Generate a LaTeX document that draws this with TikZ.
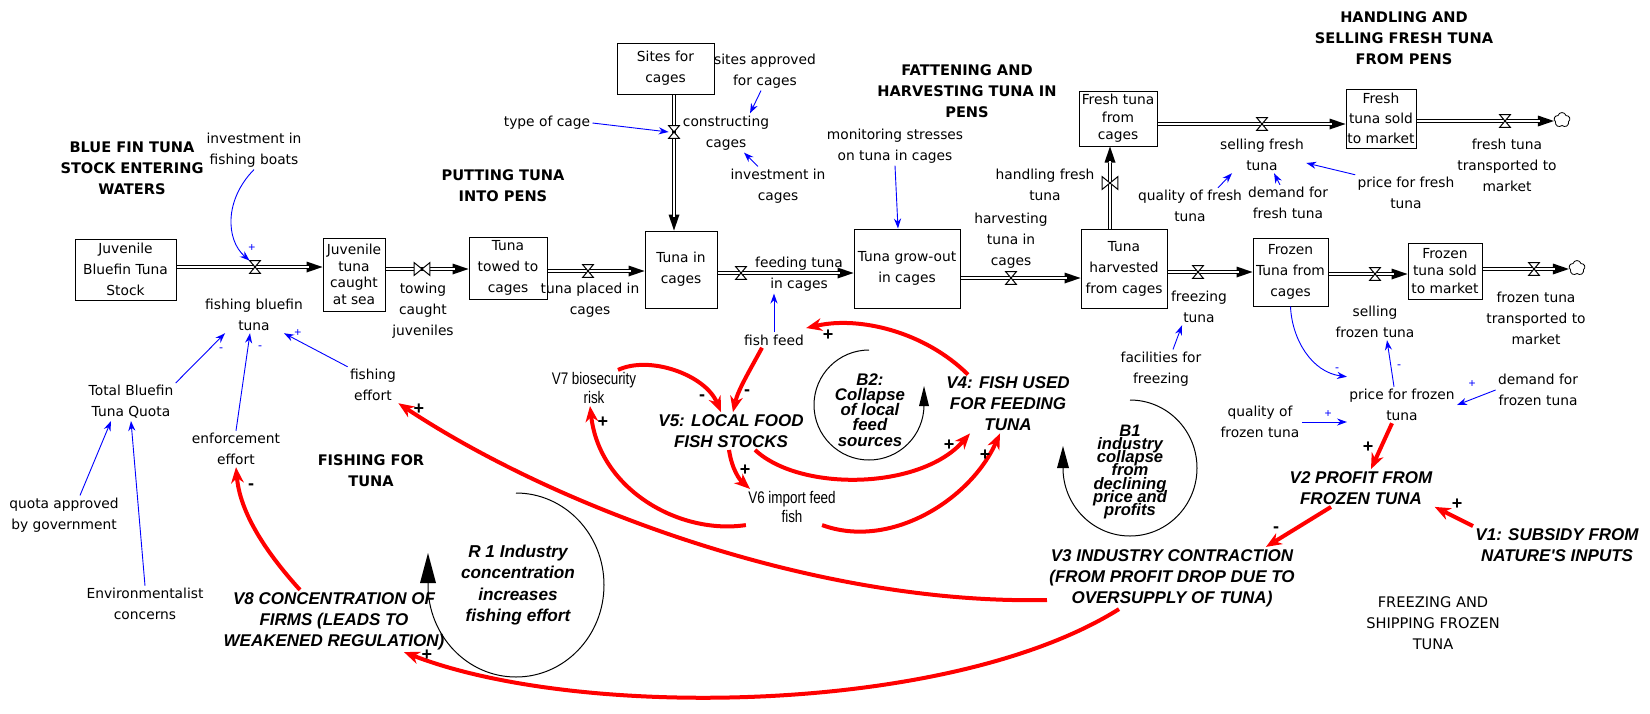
\documentclass[tikz,border=0pt]{standalone}
\usepackage{fontspec}
\usetikzlibrary{arrows.meta,shapes.symbols,backgrounds}
\newfontfamily\comicfont{DejaVu Sans}
\newfontfamily\varfamily{Liberation Sans}
\newfontfamily\narrowfont{Liberation Sans}[FakeStretch=0.8]
\newcommand\tightlines{\lineskiplimit=-20pt\relax}

\tikzset{
  stock/.style={draw,line width=0.5pt,align=center,inner sep=0pt,font=\comicfont\fontsize{6.9}{10.5}\selectfont},
  aux/.style={align=center,inner sep=1pt,font=\comicfont\fontsize{6.9}{10.5}\selectfont},
  sector/.style={align=center,inner sep=1pt,font=\comicfont\bfseries\fontsize{7.3}{10.5}\selectfont},
  var/.style={align=center,inner sep=1pt,font=\varfamily\bfseries\itshape\fontsize{8.5}{10.5}\selectfont},
  narrowvar/.style={align=center,inner sep=1pt,font=\narrowfont\fontsize{8.4}{9.5}\selectfont},
  loopname/.style={align=center,inner sep=0pt,font=\varfamily\bfseries\itshape\fontsize{8.6}{10.7}\selectfont},
  valve/.style={inner sep=0pt,minimum width=5pt,minimum height=6pt},
  bowvalve/.style={inner sep=0pt,minimum width=7.5pt,minimum height=6pt},
  sink/.style={cloud,draw,cloud puffs=5,cloud puff arc=150,aspect=1,minimum width=8pt,minimum height=7.5pt,inner sep=0pt,line width=0.4pt},
  pipe/.style={draw=white,line width=0.6pt,shorten >=7pt,
    preaction={draw=black,line width=1.8pt,shorten >=0pt,-{Triangle[length=8pt,width=5.5pt,line width=0pt]}}},
  info/.style={blue,line width=0.45pt,-{Stealth[length=5pt,width=3.6pt,line width=0pt]}},
  causal/.style={red,line width=2pt,-{Stealth[length=8pt,width=6.5pt,line width=0pt]}},
  loopline/.style={line width=0.5pt},
  sign/.style={inner sep=0pt,font=\varfamily\bfseries\fontsize{9}{9}\selectfont},
  bluesign/.style={inner sep=0pt,blue,font=\varfamily\fontsize{6}{6}\selectfont},
}

\begin{document}
\begin{tikzpicture}[x=0.5pt,y=-0.5pt]
\useasboundingbox (0,0) rectangle (1650,713);

% stocks
\node[stock,minimum width=50.5pt,minimum height=30.5pt] (juvstock) at (125.5,269.5) {Juvenile\\Bluefin Tuna\\Stock};
\node[stock,minimum width=31pt,minimum height=36.5pt,font=\comicfont\fontsize{6.9}{8.3}\selectfont] (caught) at (354,274.5) {Juvenile\\tuna\\caught\\at sea};
\node[stock,minimum width=39pt,minimum height=31pt] (towed) at (508,268) {Tuna\\towed to\\cages};
\node[stock,minimum width=48.5pt,minimum height=25.5pt] (sites) at (665.5,68.5) {Sites for\\cages};
\node[stock,minimum width=36pt,minimum height=38.5pt] (incages) at (681,269.5) {Tuna in\\cages};
\node[stock,minimum width=53pt,minimum height=39.5pt] (growout) at (907,268.5) {Tuna grow-out\\in cages};
\node[stock,minimum width=39pt,minimum height=27.5pt,font=\comicfont\fontsize{6.9}{8.8}\selectfont] (freshcages) at (1118,118.5) {Fresh tuna\\from\\cages};
\node[stock,minimum width=43pt,minimum height=39.5pt] (harvested) at (1124,268.5) {Tuna\\harvested\\from cages};
\node[stock,minimum width=35pt,minimum height=29.5pt,font=\comicfont\fontsize{6.9}{10}\selectfont] (freshsold) at (1381,118.5) {Fresh\\tuna sold\\to market};
\node[stock,minimum width=37.5pt,minimum height=34pt] (frozencages) at (1290.5,272) {Frozen\\Tuna from\\cages};
\node[stock,minimum width=37pt,minimum height=28pt,font=\comicfont\fontsize{6.9}{8.8}\selectfont] (frozensold) at (1445,271) {Frozen\\tuna sold\\to market};
\node[sink] (freshcloud) at (1562,120) {};
\node[sink] (frozencloud) at (1577,268) {};

% valves
\node[valve] (vfish) at (255,267) {};
\node[bowvalve] (vtow) at (422,269) {};
\node[valve] (vplace) at (588,271) {};
\node[valve] (vsites) at (674,132) {};
\node[valve] (vfeed) at (741,273) {};
\node[valve] (vharv) at (1011,278) {};
\node[bowvalve] (vhandle) at (1110,183) {};
\node[valve] (vsellfresh) at (1262,124) {};
\node[valve] (vfreshout) at (1505,121) {};
\node[valve] (vfreeze) at (1198,272) {};
\node[valve] (vsellfrozen) at (1375,274) {};
\node[valve] (vfrozenout) at (1534,269) {};

\begin{scope}[on background layer]
  \draw[pipe] (juvstock.east |- vfish) -- (caught.west |- vfish);
  \draw[pipe] (caught.east |- vtow) -- (towed.west |- vtow);
  \draw[pipe] (towed.east |- vplace) -- (incages.west |- vplace);
  \draw[pipe] (sites.south -| vsites) -- (incages.north -| vsites);
  \draw[pipe] (incages.east |- vfeed) -- (growout.west |- vfeed);
  \draw[pipe] (growout.east |- vharv) -- (harvested.west |- vharv);
  \draw[pipe] (harvested.north -| vhandle) -- (freshcages.south -| vhandle);
  \draw[pipe] (freshcages.east |- vsellfresh) -- (freshsold.west |- vsellfresh);
  \draw[pipe] (freshsold.east |- vfreshout) -- (freshcloud.west |- vfreshout);
  \draw[pipe] (harvested.east |- vfreeze) -- (frozencages.west |- vfreeze);
  \draw[pipe] (frozencages.east |- vsellfrozen) -- (frozensold.west |- vsellfrozen);
  \draw[pipe] (frozensold.east |- vfrozenout) -- (frozencloud.west |- vfrozenout);
\end{scope}

\foreach \v in {vfish,vplace,vsites,vfeed,vharv,vsellfresh,vfreshout,vfreeze,vsellfrozen,vfrozenout}
  \draw[fill=white,line width=0.5pt] (\v.north west) -- (\v.south east) -- (\v.south west) -- (\v.north east) -- cycle;
\foreach \v in {vtow,vhandle}
  \draw[fill=white,line width=0.5pt] (\v.north west) -- (\v.south east) -- (\v.north east) -- (\v.south west) -- cycle;

% sector titles
\node[sector] (secblue) at (132,168) {BLUE FIN TUNA\\STOCK ENTERING\\WATERS};
\node[sector] (secput) at (503,186) {PUTTING TUNA\\INTO PENS};
\node[sector] (secfat) at (967,91) {FATTENING AND\\HARVESTING TUNA IN\\PENS};
\node[sector] (sechand) at (1404,38) {HANDLING AND\\SELLING FRESH TUNA\\FROM PENS};
\node[sector] (secfish) at (371,471) {FISHING FOR\\TUNA};
\node[sector,font=\comicfont\fontsize{7.3}{10.5}\selectfont] (secfreeze) at (1433,623) {FREEZING AND\\SHIPPING FROZEN\\TUNA};

% auxiliaries
\node[aux] (invboats) at (254,150) {investment in\\fishing boats};
\node[aux] (fishbluefin) at (254,315) {fishing bluefin\\tuna};
\node[aux] (towing) at (423,311) {towing\\caught\\juveniles};
\node[aux] (placed) at (590,300) {tuna placed in\\cages};
\node[aux] (typecage) at (547,123) {type of cage};
\node[aux] (sitesappr) at (765,71) {sites approved\\for cages};
\node[aux] (constructing) at (726,133) {constructing\\cages};
\node[aux] (invcages) at (778,186) {investment in\\cages};
\node[aux] (feeding) at (799,274) {feeding tuna\\in cages};
\node[aux] (monitoring) at (895,146) {monitoring stresses\\on tuna in cages};
\node[aux] (harvesting) at (1011,241) {harvesting\\tuna in\\cages};
\node[aux] (handling) at (1045,185) {handling fresh\\tuna};
\node[aux] (sellfresh) at (1262,155) {selling fresh\\tuna};
\node[aux] (qualfresh) at (1190,206) {quality of fresh\\tuna};
\node[aux] (demfresh) at (1288,203) {demand for\\fresh tuna};
\node[aux] (pricefresh) at (1406,193) {price for fresh\\tuna};
\node[aux] (freshtrans) at (1507,165) {fresh tuna\\transported to\\market};
\node[aux] (freezing) at (1199,307) {freezing\\tuna};
\node[aux] (sellfrozen) at (1375,322) {selling\\frozen tuna};
\node[aux] (frozentrans) at (1536,318) {frozen tuna\\transported to\\market};
\node[aux] (facilities) at (1161,369) {facilities for\\freezing};
\node[aux] (pricefrozen) at (1402,405) {price for frozen\\tuna};
\node[aux] (demfrozen) at (1538,390) {demand for\\frozen tuna};
\node[aux] (qualfrozen) at (1260,422) {quality of\\frozen tuna};
\node[aux] (fishfeed) at (774,340) {fish feed};
\node[aux] (quota) at (131,402) {Total Bluefin\\Tuna Quota};
\node[aux] (enforcement) at (236,449) {enforcement\\effort};
\node[aux] (effort) at (373,385) {fishing\\effort};
\node[aux] (quotagov) at (64,515) {quota approved\\by government};
\node[aux] (environ) at (145,604) {Environmentalist\\concerns};

% causal loop variables
\node[var] (v1) at (1557,545) {V1: SUBSIDY FROM\\NATURE'S INPUTS};
\node[var] (v2) at (1361,488) {V2 PROFIT FROM\\FROZEN TUNA};
\node[var] (v3) at (1172,578) {V3 INDUSTRY CONTRACTION\\(FROM PROFIT DROP DUE TO\\OVERSUPPLY OF TUNA)};
\node[var] (v4) at (1008,404) {V4: FISH USED\\FOR FEEDING\\TUNA};
\node[var] (v5) at (731,431) {V5: LOCAL FOOD\\FISH STOCKS};
\node[narrowvar] (v6) at (792,507) {V6 import feed\\fish};
\node[narrowvar] (v7) at (594,388) {V7 biosecurity\\risk};
\node[var] (v8) at (334,621) {V8 CONCENTRATION OF\\FIRMS (LEADS TO\\WEAKENED REGULATION)};

% loops
\node[loopname] (r1) at (518,585) {R 1 Industry\\concentration\\increases\\fishing effort};
\node[loopname,font=\varfamily\bfseries\itshape\fontsize{8.4}{7.6}\selectfont\tightlines] (b2) at (870,410) {B2:\\Collapse\\of local\\feed\\sources};
\node[loopname,font=\varfamily\bfseries\itshape\fontsize{8.3}{6.6}\selectfont\tightlines] (b1) at (1130,472) {B1\\industry\\collapse\\from\\declining\\price and\\profits};
\draw[loopline,-{Triangle[length=15pt,width=8pt,line width=0pt]}] (516,493) arc[start angle=-90,end angle=180,x radius=88,y radius=92] -- ++(0,-32);
\draw[loopline,-{Triangle[length=10pt,width=5pt,line width=0pt]}] (869,350) arc[start angle=270,end angle=0,radius=55] -- ++(0,-19);
\draw[loopline,-{Triangle[length=11pt,width=6pt,line width=0pt]}] (1130,400) arc[start angle=-90,end angle=180,x radius=67,y radius=68] -- ++(0,-22);

% information links
\draw[info] (invboats.south) .. controls (224,200) and (226,240) .. (vfish.north west);
\draw[info] (typecage.east) -- (vsites.west);
\draw[info] ([xshift=-2pt]sitesappr.south) -- ([xshift=12pt]constructing.north);
\draw[info] ([xshift=-10pt]invcages.north) -- ([xshift=9pt]constructing.south);
\draw[info] (monitoring.south) -- ([xshift=-4.5pt]growout.north);
\draw[info] (fishfeed.north) -- (fishfeed.north |- feeding.south);
\draw[info] ([xshift=14pt]qualfresh.north) -- ([xshift=-15pt]sellfresh.south);
\draw[info] ([xshift=-4pt]demfresh.north) -- ([xshift=6pt]sellfresh.south);
\draw[info] (pricefresh.north west) -- ([yshift=-4pt]sellfresh.east);
\draw[info] ([xshift=6pt]facilities.north) -- ([xshift=-8.5pt]freezing.south);
\draw[info] (frozencages.south) .. controls (1292,340) and (1312,372) .. ([yshift=5pt]pricefrozen.north west);
\draw[info] ([xshift=-4pt]pricefrozen.north) -- ([xshift=6pt]sellfrozen.south);
\draw[info] (demfrozen.west) -- (pricefrozen.east);
\draw[info] (qualfrozen.east) -- (pricefrozen.west |- qualfrozen.east);
\draw[info] (quota.north east) -- ([xshift=-14.5pt]fishbluefin.south);
\draw[info] (enforcement.north) -- ([xshift=-2pt]fishbluefin.south);
\draw[info] (effort.north west) -- ([xshift=15pt]fishbluefin.south);
\draw[info] ([xshift=8pt]quotagov.north) -- ([xshift=-10pt]quota.south);
\draw[info] (environ.north) -- (quota.south);

% causal links
\draw[causal] ([xshift=-17pt]v8.north) .. controls (262,548) and (240,510) .. (enforcement.south);
\draw[causal] ([yshift=-11pt]v3.west) .. controls (820,605) and (560,510) .. (effort.south east);
\draw[causal] ([xshift=-26.5pt]v3.south) .. controls (950,715) and (580,720) .. ([xshift=35pt]v8.south);
\draw[causal] ([xshift=-20pt]v4.north) .. controls (925,332) and (860,316) .. ([yshift=6pt]fishfeed.east);
\draw[causal] ([xshift=12pt]v7.north) .. controls (650,355) and (705,375) .. ([xshift=-5pt]v5.north);
\draw[causal] ([xshift=-6pt]fishfeed.south) .. controls (750,370) and (738,390) .. ([xshift=1pt]v5.north);
\draw[causal] ([xshift=12pt]v5.south) .. controls (800,492) and (920,490) .. ([xshift=-19pt]v4.south);
\draw[causal] ([xshift=-1pt]v5.south) .. controls (732,470) and (740,480) .. ([xshift=-21pt]v6.north);
\draw[causal] (v6.south west) .. controls (680,535) and (600,490) .. ([xshift=-2pt]v7.south);
\draw[causal] ([xshift=-8pt]v6.south east) .. controls (890,550) and (970,500) .. ([xshift=-4pt]v4.south);
\draw[causal] ([xshift=-5pt]pricefrozen.south) -- ([xshift=5pt]v2.north);
\draw[causal] (v1.north west) -- (v2.south east);
\draw[causal] ([xshift=-15pt]v2.south) -- ([xshift=47pt]v3.north);

% polarities
\node[bluesign] (sga) at (252,248) {+};
\node[bluesign] (sgb) at (221,350) {-};
\node[bluesign] (sgc) at (260,348) {-};
\node[bluesign] (sgd) at (298,333) {+};
\node[bluesign] (sge) at (1337,370) {-};
\node[bluesign] (sgf) at (1399,367) {-};
\node[bluesign] (sgg) at (1472,384) {+};
\node[bluesign] (sgh) at (1328,414) {+};
\node[sign] (sga2) at (251,487) {-};
\node[sign] (sgb2) at (419,409) {+};
\node[sign] (sgc2) at (427,655) {+};
\node[sign] (sgd2) at (828,335) {+};
\node[sign] (sge2) at (702,398) {-};
\node[sign] (sgf2) at (747,393) {-};
\node[sign] (sgg2) at (745,470) {+};
\node[sign] (sgh2) at (603,422) {+};
\node[sign] (sgi2) at (949,445) {+};
\node[sign] (sgj2) at (985,455) {+};
\node[sign] (sgk2) at (1368,447) {+};
\node[sign] (sgl2) at (1457,504) {+};
\node[sign] (sgm2) at (1276,530) {-};
\end{tikzpicture}
\end{document}
